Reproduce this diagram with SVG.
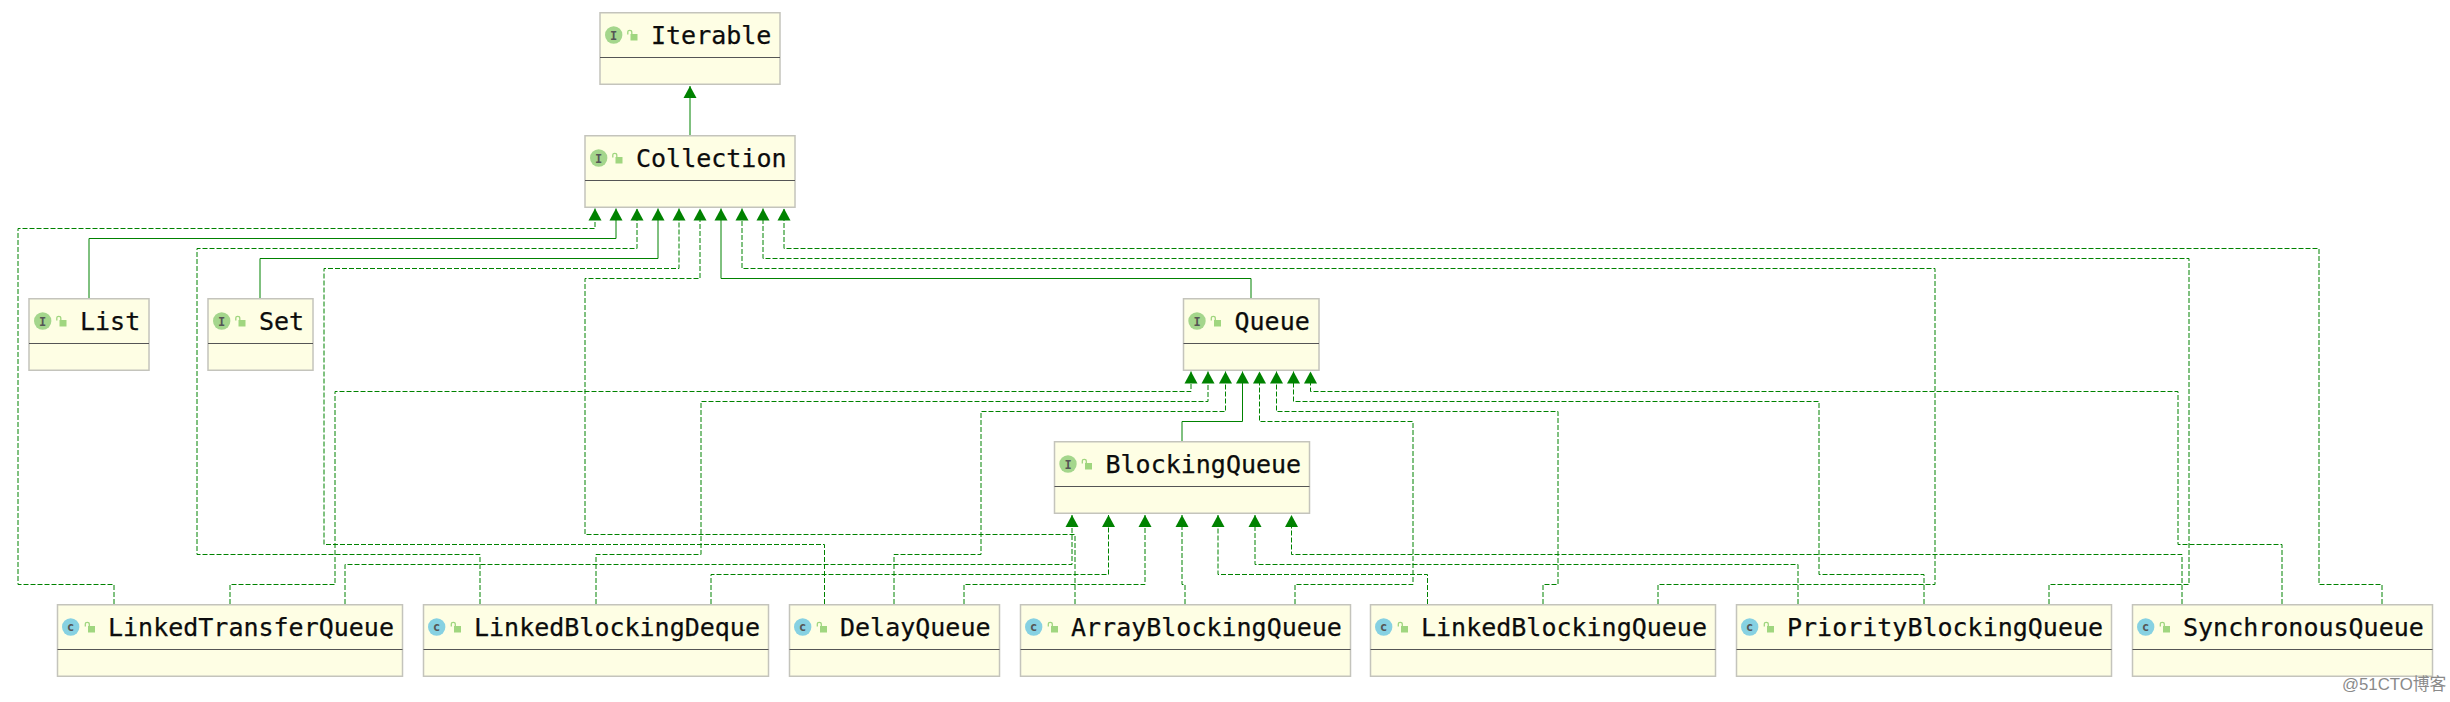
<svg xmlns="http://www.w3.org/2000/svg" width="2450" height="702" viewBox="0 0 2450 702">
<style>
text{white-space:pre}
.box{fill:#fefee4;stroke:#c4c4bc;stroke-width:1.5}
.div{stroke:#555;stroke-width:1;fill:none}
.name{font-family:"DejaVu Sans Mono","Liberation Mono",monospace;font-size:25px;fill:#0c0c0c;stroke:#0c0c0c;stroke-width:.25}
.ic{font-family:"DejaVu Sans Mono","Liberation Mono",monospace;font-size:12px;fill:#555;text-anchor:middle;font-weight:bold}
.if{fill:#a4d68c}
.cl{fill:#86d1e2}
.solid,.dash{fill:none;stroke:#008200;stroke-width:1;marker-end:url(#tri)}
.dash{stroke-dasharray:5 2}
.mark{font-family:"Liberation Sans","Noto Sans CJK SC",sans-serif;font-size:16.800px;fill:#8a8a8a}
</style>
<defs>
<marker id="tri" markerUnits="userSpaceOnUse" markerWidth="14" markerHeight="15" refX="12" refY="7" orient="auto">
<path d="M0 0.500L12 7L0 13.500Z" fill="#008200"/>
</marker>
<g id="lock">
<rect x="3.500" y="4" width="7" height="6.500" fill="#a0d67f"/>
<path d="M0.800 4.500V2.200Q0.800 0.400 2.800 0.400Q4.800 0.400 4.800 2.200V4" fill="none" stroke="#a0d67f" stroke-width="1.300"/>
</g>
</defs>

<!-- inheritance and implementation edges -->
<g id="connectors">
<path class="solid" d="M690 135V86"/>
<path class="solid" d="M89 298V238.500H616V208.500"/>
<path class="solid" d="M260 298V258.500H658V208.500"/>
<path class="solid" d="M1251 298V278.500H721V208.500"/>
<path class="solid" d="M1182 441V421.500H1242.500V371.500"/>

<path class="dash" d="M114 604V584.500H18V228.500H595V208.500"/>
<path class="dash" d="M230 604V584.500H335V391.500H1191V371.500"/>
<path class="dash" d="M345 604V564.500H1072V515"/>

<path class="dash" d="M480 604V554.500H197V248.500H637V208.500"/>
<path class="dash" d="M596 604V554.500H701V401.500H1208V371.500"/>
<path class="dash" d="M711 604V574.500H1108.500V515"/>

<path class="dash" d="M824.500 604V544.500H324V268.500H679V208.500"/>
<path class="dash" d="M894 604V554.500H981V411.500H1225.500V371.500"/>
<path class="dash" d="M964 604V584.500H1145V515"/>

<path class="dash" d="M1075 604V534.500H585V278.500H700V208.500"/>
<path class="dash" d="M1185 604V584.500H1182V515"/>
<path class="dash" d="M1295 604V584.500H1413V421.500H1259.500V371.500"/>

<path class="dash" d="M1427.500 604V574.500H1218V515"/>
<path class="dash" d="M1543 604V584.500H1558V411.500H1276.500V371.500"/>
<path class="dash" d="M1658 604V584.500H1935V268.500H742V208.500"/>

<path class="dash" d="M1798 604V564.500H1255V515"/>
<path class="dash" d="M1924 604V574.500H1819V401.500H1293.500V371.500"/>
<path class="dash" d="M2049 604V584.500H2189V258.500H763V208.500"/>

<path class="dash" d="M2182 604V554.500H1291.500V515"/>
<path class="dash" d="M2282 604V544.500H2178V391.500H1310.500V371.500"/>
<path class="dash" d="M2382 604V584.500H2319V248.500H784V208.500"/>
</g>

<g id="Iterable">
<rect class="box" x="600" y="12.750" width="180" height="71.500"/>
<path class="div" d="M600 57.500H780"/>
<circle class="if" cx="613.700" cy="35" r="8.700"/>
<text class="ic" x="613.700" y="39.500">I</text>
<use href="#lock" x="627" y="30"/>
<text class="name" x="651" y="44">Iterable</text>
</g>
<g id="Collection">
<rect class="box" x="585" y="135.750" width="210" height="71.500"/>
<path class="div" d="M585 180.500H795"/>
<circle class="if" cx="598.700" cy="158" r="8.700"/>
<text class="ic" x="598.700" y="162.500">I</text>
<use href="#lock" x="612" y="153"/>
<text class="name" x="636" y="167">Collection</text>
</g>
<g id="List">
<rect class="box" x="29" y="298.750" width="120" height="71.500"/>
<path class="div" d="M29 343.500H149"/>
<circle class="if" cx="42.700" cy="321" r="8.700"/>
<text class="ic" x="42.700" y="325.500">I</text>
<use href="#lock" x="56" y="316"/>
<text class="name" x="80" y="330">List</text>
</g>
<g id="Set">
<rect class="box" x="208" y="298.750" width="105" height="71.500"/>
<path class="div" d="M208 343.500H313"/>
<circle class="if" cx="221.700" cy="321" r="8.700"/>
<text class="ic" x="221.700" y="325.500">I</text>
<use href="#lock" x="235" y="316"/>
<text class="name" x="259" y="330">Set</text>
</g>
<g id="Queue">
<rect class="box" x="1183.500" y="298.750" width="135.500" height="71.500"/>
<path class="div" d="M1183.500 343.500H1319"/>
<circle class="if" cx="1197" cy="321" r="8.700"/>
<text class="ic" x="1197" y="325.500">I</text>
<use href="#lock" x="1210.500" y="316"/>
<text class="name" x="1234.500" y="330">Queue</text>
</g>
<g id="BlockingQueue">
<rect class="box" x="1054.500" y="441.750" width="255" height="71.500"/>
<path class="div" d="M1054.500 486.500H1309.500"/>
<circle class="if" cx="1068" cy="464" r="8.700"/>
<text class="ic" x="1068" y="468.500">I</text>
<use href="#lock" x="1081.500" y="459"/>
<text class="name" x="1105.500" y="473">BlockingQueue</text>
</g>
<g id="LinkedTransferQueue">
<rect class="box" x="57.500" y="604.750" width="345" height="71.500"/>
<path class="div" d="M57.500 649.500H402.500"/>
<circle class="cl" cx="70.700" cy="627" r="8.700"/>
<text class="ic" x="70.700" y="631">c</text>
<use href="#lock" x="84.500" y="622"/>
<text class="name" x="108" y="636">LinkedTransferQueue</text>
</g>
<g id="LinkedBlockingDeque">
<rect class="box" x="423.500" y="604.750" width="345" height="71.500"/>
<path class="div" d="M423.500 649.500H768.500"/>
<circle class="cl" cx="436.700" cy="627" r="8.700"/>
<text class="ic" x="436.700" y="631">c</text>
<use href="#lock" x="450.500" y="622"/>
<text class="name" x="474" y="636">LinkedBlockingDeque</text>
</g>
<g id="DelayQueue">
<rect class="box" x="789.500" y="604.750" width="210" height="71.500"/>
<path class="div" d="M789.500 649.500H999.500"/>
<circle class="cl" cx="802.700" cy="627" r="8.700"/>
<text class="ic" x="802.700" y="631">c</text>
<use href="#lock" x="816.500" y="622"/>
<text class="name" x="840" y="636">DelayQueue</text>
</g>
<g id="ArrayBlockingQueue">
<rect class="box" x="1020.500" y="604.750" width="330" height="71.500"/>
<path class="div" d="M1020.500 649.500H1350.500"/>
<circle class="cl" cx="1033.700" cy="627" r="8.700"/>
<text class="ic" x="1033.700" y="631">c</text>
<use href="#lock" x="1047.500" y="622"/>
<text class="name" x="1071" y="636">ArrayBlockingQueue</text>
</g>
<g id="LinkedBlockingQueue">
<rect class="box" x="1370.500" y="604.750" width="345" height="71.500"/>
<path class="div" d="M1370.500 649.500H1715.500"/>
<circle class="cl" cx="1383.700" cy="627" r="8.700"/>
<text class="ic" x="1383.700" y="631">c</text>
<use href="#lock" x="1397.500" y="622"/>
<text class="name" x="1421" y="636">LinkedBlockingQueue</text>
</g>
<g id="PriorityBlockingQueue">
<rect class="box" x="1736.500" y="604.750" width="375" height="71.500"/>
<path class="div" d="M1736.500 649.500H2111.500"/>
<circle class="cl" cx="1749.700" cy="627" r="8.700"/>
<text class="ic" x="1749.700" y="631">c</text>
<use href="#lock" x="1763.500" y="622"/>
<text class="name" x="1787" y="636">PriorityBlockingQueue</text>
</g>
<g id="SynchronousQueue">
<rect class="box" x="2132.500" y="604.750" width="300" height="71.500"/>
<path class="div" d="M2132.500 649.500H2432.500"/>
<circle class="cl" cx="2145.700" cy="627" r="8.700"/>
<text class="ic" x="2145.700" y="631">c</text>
<use href="#lock" x="2159.500" y="622"/>
<text class="name" x="2183" y="636">SynchronousQueue</text>
</g>
<text class="mark" x="2342" y="690">@51CTO博客</text>
</svg>
